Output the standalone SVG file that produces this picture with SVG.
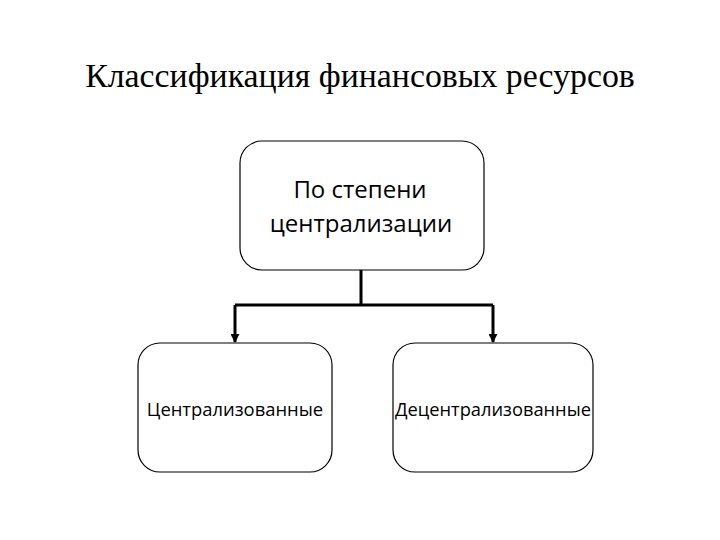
<svg xmlns="http://www.w3.org/2000/svg" width="720" height="540" viewBox="0 0 720 540">
<style>
.box{fill:#fff;stroke:#000;stroke-width:1.2}
.t{font-family:"Open Sans","DejaVu Sans",sans-serif;fill:#000;text-anchor:middle}
.title{font-family:"Liberation Serif","Times New Roman",serif;font-size:33.8px;fill:#000;text-anchor:middle}
.conn{fill:none;stroke:#000;stroke-width:3}
</style>
<defs>
<marker id="arr" viewBox="0 0 10 10" refX="9" refY="5" markerWidth="3" markerHeight="3" orient="auto">
<path d="M0,0 L10,5 L0,10 z" fill="#000"/>
</marker>
</defs>
<rect width="720" height="540" fill="#fff"/>
<text class="title" x="360" y="87">Классификация финансовых ресурсов</text>
<g id="connectors">
<path class="conn" d="M361,270 V305 M235,305 H493"/>
<path class="conn" d="M235,305 V342" marker-end="url(#arr)"/>
<path class="conn" d="M493,305 V342" marker-end="url(#arr)"/>
</g>
<g id="node-root">
<rect class="box" x="240" y="141" width="244" height="129" rx="22"/>
<text class="t" x="360" y="198" font-size="24">По степени</text>
<text class="t" x="361" y="232" font-size="24">централизации</text>
</g>
<g id="node-central">
<rect class="box" x="138" y="343" width="194" height="129" rx="22"/>
<text class="t" x="235" y="416" font-size="18.4">Централизованные</text>
</g>
<g id="node-decentral">
<rect class="box" x="393" y="343" width="200" height="129" rx="22"/>
<text class="t" x="493" y="416" font-size="18.3">Децентрализованные</text>
</g>
</svg>
